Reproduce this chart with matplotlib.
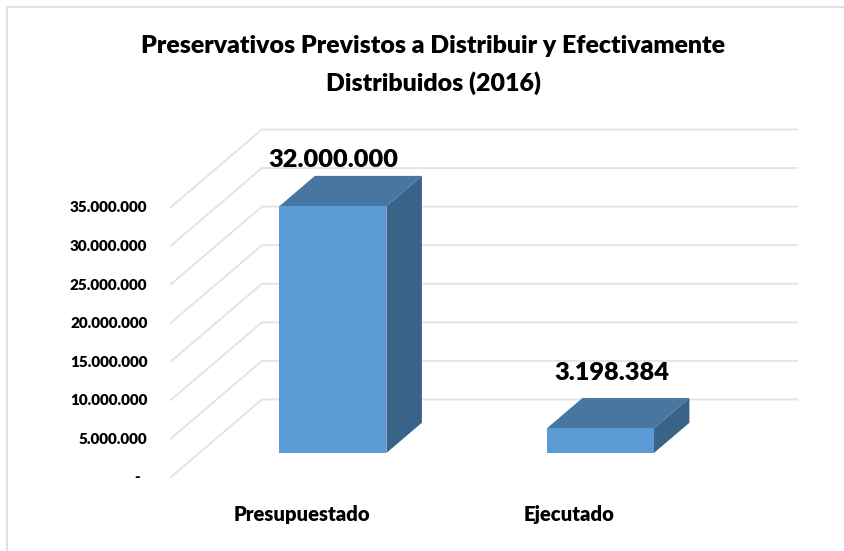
import matplotlib
matplotlib.use("Agg")
import matplotlib.pyplot as plt
from matplotlib.lines import Line2D
from matplotlib.patches import Polygon
from matplotlib.transforms import ScaledTranslation

categories = ["Presupuestado", "Ejecutado"]
values = [32000000, 3198384]
value_labels = ["32.000.000", "3.198.384"]
ticks = [0, 5000000, 10000000, 15000000, 20000000, 25000000, 30000000, 35000000]
tick_labels = ["-  ", "5.000.000", "10.000.000", "15.000.000", "20.000.000",
               "25.000.000", "30.000.000", "35.000.000"]
title = "Preservativos Previstos a Distribuir y Efectivamente\nDistribuidos (2016)"

W, H = 844, 551
GRID = "#e4e4e4"
FRONT = "#5b9bd5"
TOP = "#4776a2"
SIDE = "#3a6389"

# fake 3d: the back wall sits this far from the front of the floor
DEPTH_X = 0.34
DEPTH_Y = 10050000
BAR_WIDTH = 0.4
BAR_START = 0.31
BAR_END = 0.70

plt.rcParams["font.family"] = ["Lato", "DejaVu Sans"]
plt.rcParams["font.weight"] = "heavy"

fig = plt.figure(figsize=(W / 100, H / 100), dpi=100)
# only the left and top edges of the chart frame show
fig.add_artist(Line2D([7 / W, 7 / W, 1], [0, 1 - 7 / H, 1 - 7 / H], color="#e0e0e0", lw=1.5))

ax = fig.add_axes([171 / W, 1 - 477 / H, 626 / W, 347 / H])
ax.set_xlim(-0.5, -0.5 + 626 / 267.5)
ax.set_ylim(0, 347 / 270 * 35000000)
ax.patch.set_visible(False)
for s in ax.spines.values():
    s.set_visible(False)

for t in ticks:
    ax.plot([-0.5, -0.5 + DEPTH_X, 1.84],
            [t, t + DEPTH_Y, t + DEPTH_Y], color=GRID, lw=1.4, zorder=1, clip_on=False)

for i, v in enumerate(values):
    x0 = i - BAR_WIDTH / 2
    x1 = i + BAR_WIDTH / 2
    dx0 = DEPTH_X * BAR_START
    dy0 = DEPTH_Y * BAR_START
    dx1 = DEPTH_X * BAR_END
    dy1 = DEPTH_Y * BAR_END
    ax.add_patch(Polygon([(x1 + dx0, dy0), (x1 + dx1, dy1), (x1 + dx1, v + dy1), (x1 + dx0, v + dy0)],
                         fc=SIDE, ec="none", zorder=2))
    ax.add_patch(Polygon([(x0 + dx0, v + dy0), (x0 + dx1, v + dy1), (x1 + dx1, v + dy1), (x1 + dx0, v + dy0)],
                         fc=TOP, ec="none", zorder=2))
    ax.add_patch(Polygon([(x0 + dx0, dy0), (x1 + dx0, dy0), (x1 + dx0, v + dy0), (x0 + dx0, v + dy0)],
                         fc=FRONT, ec="none", zorder=3))

ax.annotate(value_labels[0], (0 + DEPTH_X * BAR_START, values[0] + DEPTH_Y * BAR_START),
            xytext=(0, 33), textcoords="offset points", ha="center", va="center", fontsize=18.3)
ax.annotate(value_labels[1], (1 + DEPTH_X * BAR_START, values[1] + DEPTH_Y * BAR_START),
            xytext=(8, 40), textcoords="offset points", ha="center", va="center", fontsize=18.3)

ax.set_yticks(ticks)
ax.set_yticklabels(tick_labels, fontsize=11)
ax.set_xticks([0, 1])
ax.set_xticklabels(categories, fontsize=14.6)
ax.tick_params(axis="y", length=0, pad=17)
ax.tick_params(axis="x", length=0, pad=20.5)
shift = ScaledTranslation(-3 / 100, 0, fig.dpi_scale_trans)
for lab in ax.get_xticklabels():
    lab.set_transform(lab.get_transform() + shift)

fig.text(433 / W, 1 - 65 / H, title, ha="center", va="center", fontsize=17.9, linespacing=1.78)

fig.savefig("out.png", dpi=100)
